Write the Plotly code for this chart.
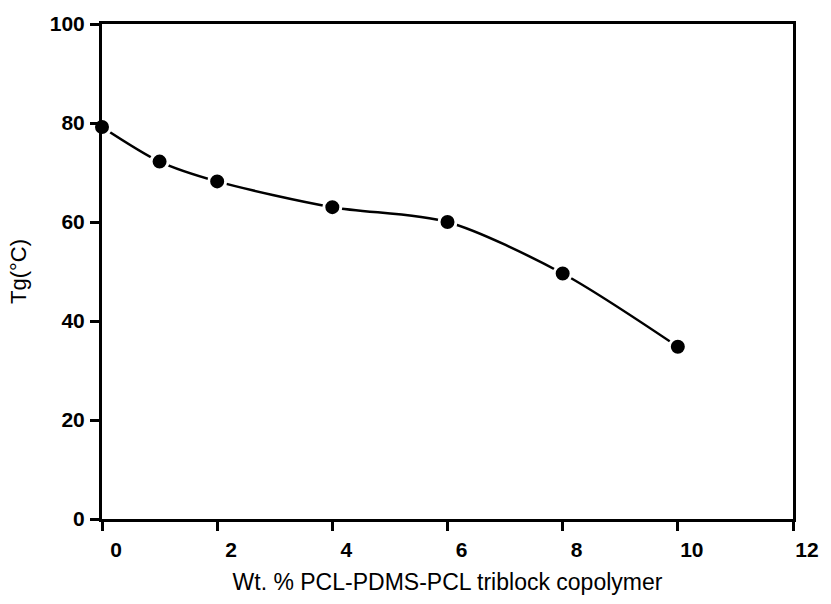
import plotly.graph_objects as go

wt_pct = [0, 1, 2, 4, 6, 8, 10]
tg_c = [79.2, 72.2, 68.2, 63.0, 60.0, 49.6, 34.8]
x_ticks = [0, 2, 4, 6, 8, 10, 12]
y_ticks = [0, 20, 40, 60, 80, 100]

fig = go.Figure()
fig.add_trace(go.Scatter(
    x=wt_pct, y=tg_c, mode="lines+markers",
    line=dict(color="black", width=2.5, shape="spline", smoothing=0.8),
    marker=dict(color="black", size=17, line=dict(color="white", width=3)),
    showlegend=False, cliponaxis=False,
))

axis_common = dict(
    showline=True, linecolor="black", linewidth=3, mirror=True,
    ticks="outside", ticklen=9, tickwidth=2.5, tickcolor="black",
    showgrid=False, zeroline=False,
    tickfont=dict(family="Liberation Sans", size=21, color="black", weight="bold"),
)

fig.update_layout(
    width=831, height=604,
    margin=dict(l=102, r=31, t=20, b=85),
    paper_bgcolor="white", plot_bgcolor="white",
    xaxis=dict(range=[0, 12], tickvals=x_ticks, ticktext=[str(v) for v in x_ticks],
               ticklabelshift=14, ticklabelstandoff=1,
               title=dict(text="Wt. % PCL-PDMS-PCL triblock copolymer",
                          font=dict(family="Liberation Sans", size=23, color="black"),
                          standoff=14),
               **axis_common),
    yaxis=dict(range=[0, 100], tickvals=y_ticks, ticktext=[str(v) for v in y_ticks],
               ticklabelstandoff=1,
               title=dict(text="Tg(°C)",
                          font=dict(family="Liberation Sans", size=22, color="black"),
                          standoff=18),
               **axis_common),
)

fig.write_html("out.html")
